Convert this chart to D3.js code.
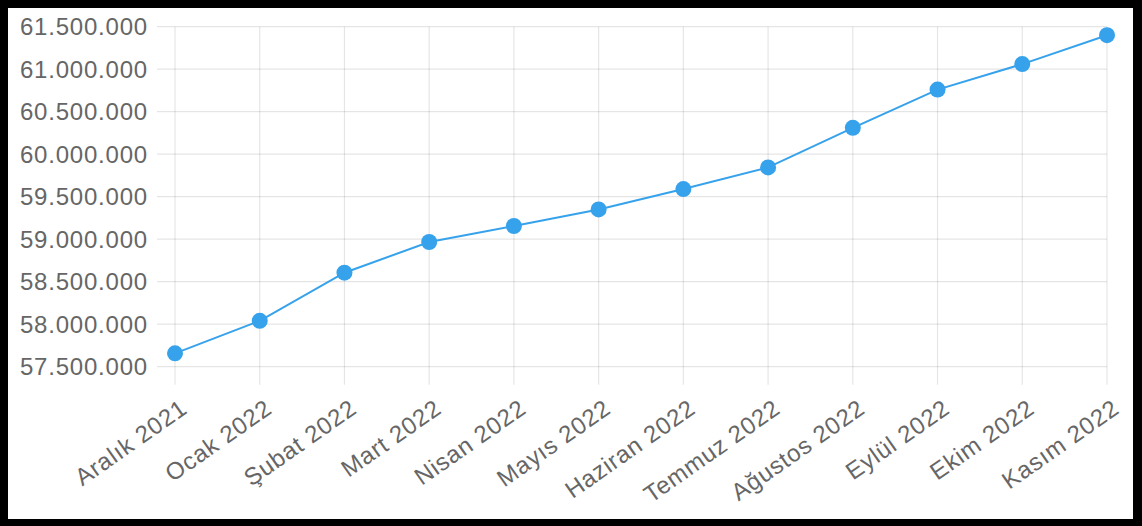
<!DOCTYPE html>
<html>
<head>
<meta charset="utf-8">
<script src="https://cdn.jsdelivr.net/npm/d3@7"></script>
<style>
  body { margin: 0; background: #fff; }
  svg { display: block; }
  .tick-label { font-family: "Liberation Sans", Arial, sans-serif; font-size: 24px; fill: #666; letter-spacing: 0.8px; }
</style>
</head>
<body>
<svg class="chart" width="1142" height="526"></svg>
<script>
// data
const months = ["Aralık 2021", "Ocak 2022", "Şubat 2022", "Mart 2022", "Nisan 2022", "Mayıs 2022",
    "Haziran 2022", "Temmuz 2022", "Ağustos 2022", "Eylül 2022", "Ekim 2022", "Kasım 2022"];
const population = [57657000, 58040000, 58606000, 58967000, 59155000, 59350000,
    59590000, 59845000, 60310000, 60760000, 61060000, 61400000];
const yTicks = [57500000, 58000000, 58500000, 59000000, 59500000, 60000000, 60500000, 61000000, 61500000];

let svg = d3.select("svg.chart"),
    width = +svg.attr("width"),
    height = +svg.attr("height");

// frame
svg.append("rect")
    .attr("width", width)
    .attr("height", height)
    .attr("fill", "#000");
svg.append("rect")
    .attr("x", 8)
    .attr("y", 8)
    .attr("width", width - 17)
    .attr("height", height - 15)
    .attr("fill", "#fff");

let plot = {left: 175, right: 1107, top: 26.7, bottom: 366.7};
let tickLen = 18;

let xScale = d3.scalePoint()
    .domain(months)
    .range([plot.left, plot.right]);
let yScale = d3.scaleLinear()
    .domain([57500000, 61500000])
    .range([plot.bottom, plot.top]);

let tr = d3.formatLocale({decimal: ",", thousands: ".", grouping: [3], currency: ["", ""]});
let fmt = tr.format(",d");

let grid = svg.append("g")
    .attr("stroke", "rgba(0,0,0,0.1)")
    .attr("stroke-width", 1.2);

// horizontal grid + y labels
grid.selectAll(".hgrid")
    .data(yTicks)
    .join("line")
    .attr("class", "hgrid")
    .attr("x1", plot.left - tickLen)
    .attr("x2", plot.right)
    .attr("y1", d => yScale(d))
    .attr("y2", d => yScale(d));

svg.selectAll(".ylab")
    .data(yTicks)
    .join("text")
    .attr("class", "tick-label ylab")
    .attr("x", plot.left - 27)
    .attr("y", d => yScale(d))
    .attr("dy", "0.35em")
    .attr("text-anchor", "end")
    .text(d => fmt(d));

// vertical grid + x labels
grid.selectAll(".vgrid")
    .data(months)
    .join("line")
    .attr("class", "vgrid")
    .attr("x1", d => xScale(d))
    .attr("x2", d => xScale(d))
    .attr("y1", plot.top)
    .attr("y2", plot.bottom + tickLen);

svg.selectAll(".xlab")
    .data(months)
    .join("text")
    .attr("class", "tick-label xlab")
    .attr("text-anchor", "end")
    .attr("dy", "0.35em")
    .attr("transform", d => "translate(" + (xScale(d) + 9) + "," + 405 + ") rotate(-35)")
    .text(d => d);

// line
svg.append("path")
    .datum(population)
    .attr("fill", "none")
    .attr("stroke", "#36a2eb")
    .attr("stroke-width", 2)
    .attr("d", d3.line()
        .x((d, i) => xScale(months[i]))
        .y(d => yScale(d)));

svg.selectAll(".dot")
    .data(population)
    .join("circle")
    .attr("class", "dot")
    .attr("cx", (d, i) => xScale(months[i]))
    .attr("cy", d => yScale(d))
    .attr("r", 8)
    .attr("fill", "#36a2eb");
</script>
</body>
</html>
